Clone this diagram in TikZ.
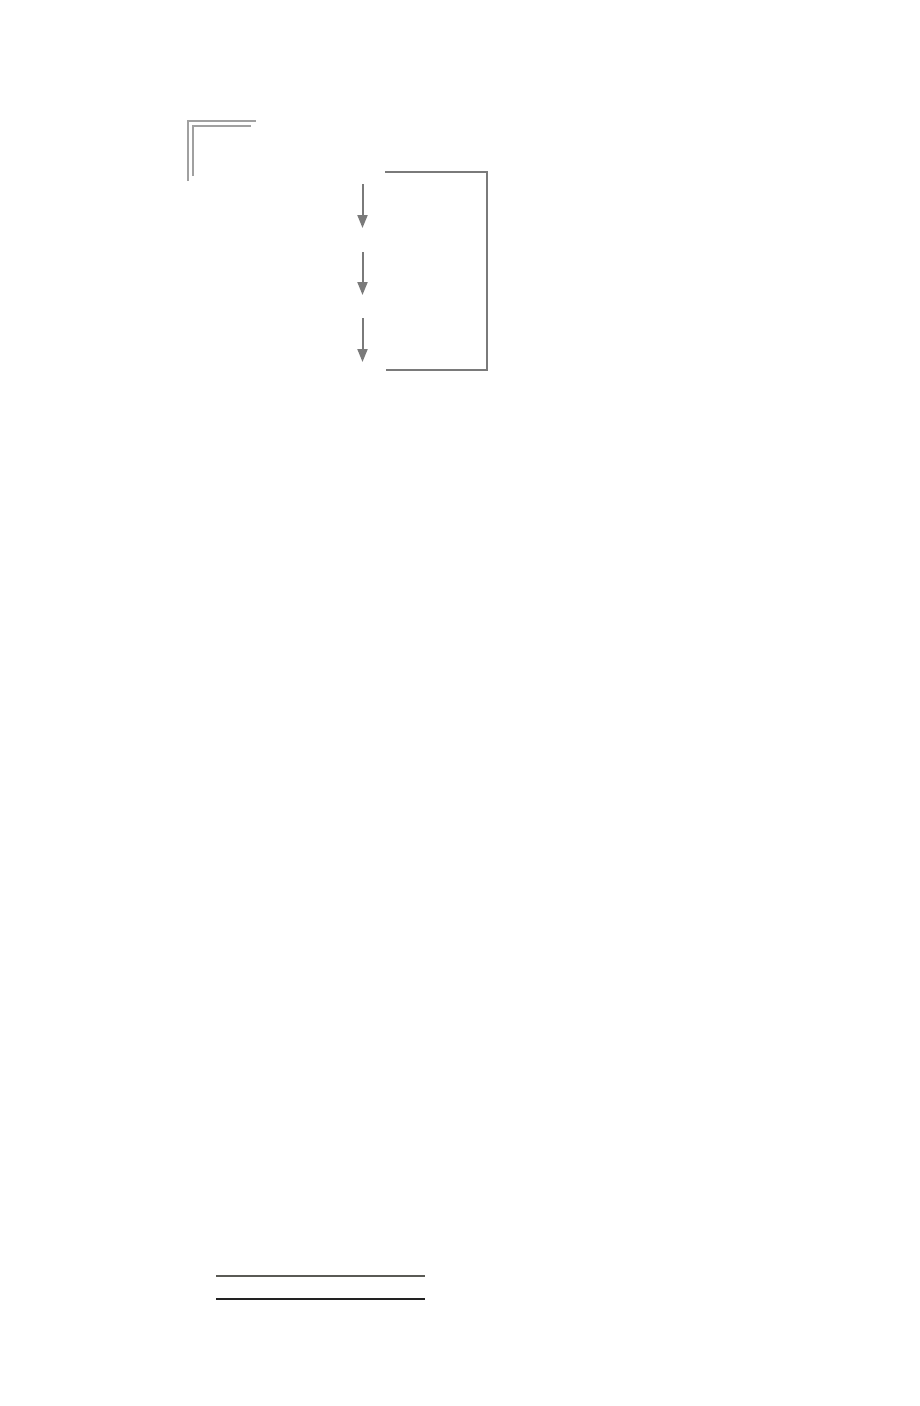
\documentclass[tikz,border=0pt]{standalone}
\usetikzlibrary{arrows.meta}
\definecolor{lgrey}{HTML}{7A7A7A}
\definecolor{cgrey}{HTML}{A0A0A0}
\definecolor{rule1}{HTML}{5A5A55}
\definecolor{rule2}{HTML}{222222}
\tikzset{
  corner/.style={draw=cgrey, line width=2pt},
  flow/.style={draw=lgrey, line width=2pt, -{Triangle[length=13pt,width=10pt]}},
  brk/.style={draw=lgrey, line width=2.2pt},
  hrule/.style={line width=1.3pt}
}
\begin{document}
\begin{tikzpicture}[x=1pt,y=-1pt]
\useasboundingbox (0,0) rectangle (920,1406);
% double corner
\coordinate (c1a) at (188,181); \coordinate (c1b) at (188,121); \coordinate (c1c) at (256,121);
\coordinate (c2a) at (193,176); \coordinate (c2b) at (193,126); \coordinate (c2c) at (251,126);
\draw[corner] (c1a) -- (c1b) -- (c1c);
\draw[corner] (c2a) -- (c2b) -- (c2c);
% arrows
\coordinate (a1s) at (362.5,184); \coordinate (a1e) at (362.5,228);
\coordinate (a2s) at (362.5,252); \coordinate (a2e) at (362.5,295);
\coordinate (a3s) at (362.5,318); \coordinate (a3e) at (362.5,362);
\draw[flow] (a1s) -- (a1e);
\draw[flow] (a2s) -- (a2e);
\draw[flow] (a3s) -- (a3e);
% bracket
\coordinate (b1) at (385,172); \coordinate (b2) at (487,172);
\coordinate (b3) at (487,370); \coordinate (b4) at (386,370);
\draw[brk] (b1) -- (b2) -- (b3) -- (b4);
% bottom rules
\coordinate (r1s) at (216,1276); \coordinate (r1e) at (425,1276);
\coordinate (r2s) at (216,1299); \coordinate (r2e) at (425,1299);
\draw[hrule, draw=rule1] (r1s) -- (r1e);
\draw[hrule, draw=rule2] (r2s) -- (r2e);
\end{tikzpicture}
\end{document}
